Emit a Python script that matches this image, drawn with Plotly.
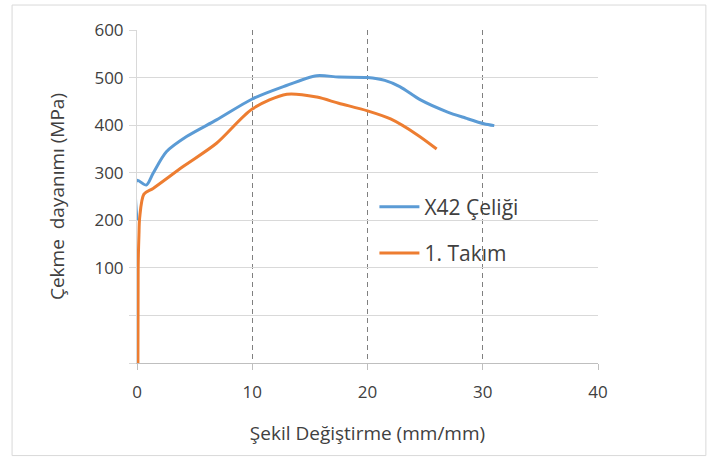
import plotly.graph_objects as go

# Data
x42_strain = [0.0, 0.0, 0.8, 1.4, 2.55, 4.3, 6.9, 10.0, 12.7, 15.6, 17.5, 20.0, 21.5, 22.8, 24.6, 26.9, 28.5, 30.1, 31.0]
x42_stress = [200, 284, 274, 299, 344, 376, 411, 455, 481, 504, 501, 500, 494, 481, 453, 428, 415, 403, 399]

takim_strain = [0.08, 0.1, 0.17, 0.23, 0.6, 1.4, 4.0, 6.9, 10.0, 13.0, 15.6, 17.5, 20.0, 22.0, 24.3, 26.0]
takim_stress = [-100, 100, 170, 205, 255, 267, 313, 362, 434, 465, 459, 446, 430, 413, 380, 350]

series_names = ["X42 Çeliği", "1. Takım"]
y_tickvals = [-100, 0, 100, 200, 300, 400, 500, 600]
y_ticktext = ["", "", "100", "200", "300", "400", "500", "600"]
x_tickvals = [0, 10, 20, 30, 40]

FONT = "Open Sans, Lato, sans-serif"
TXT = "#404040"

fig = go.Figure()
fig.add_trace(go.Scatter(x=x42_strain, y=x42_stress, mode="lines", name=series_names[0],
                         line=dict(color="#5B9BD5", width=3, shape="spline", smoothing=0.8),
                         legendgroup="a"))
fig.add_trace(go.Scatter(x=takim_strain, y=takim_stress, mode="lines", name=series_names[1],
                         line=dict(color="#ED7D31", width=3, shape="spline", smoothing=0.8),
                         legendgroup="b"))

fig.update_layout(
    width=712, height=458,
    margin=dict(l=137, r=114, t=30, b=95),
    paper_bgcolor="white", plot_bgcolor="white",
    font=dict(family=FONT, size=17, color=TXT),
    showlegend=True,
    legend=dict(x=0.515, y=0.53, xanchor="left", yanchor="top",
                bgcolor="rgba(0,0,0,0)", font=dict(size=21, color=TXT),
                tracegroupgap=16, traceorder="grouped", itemwidth=40),
    xaxis=dict(range=[0, 40], tickvals=x_tickvals, showgrid=True,
               gridcolor="#808080", griddash="5px,4px", gridwidth=1,
               showline=True, linecolor="#bfbfbf", linewidth=1,
               ticks="outside", ticklen=6, tickcolor="#bfbfbf",
               ticklabelstandoff=8,
               zeroline=False, tickfont=dict(size=17, color=TXT),
               title=dict(text="Şekil Değiştirme (mm/mm)", font=dict(size=19, color=TXT), standoff=24)),
    yaxis=dict(range=[-100, 600], tickvals=y_tickvals, ticktext=y_ticktext,
               showgrid=True, gridcolor="#d9d9d9", gridwidth=1,
               showline=True, linecolor="#d9d9d9", linewidth=1,
               ticks="outside", ticklen=7, tickcolor="#d9d9d9",
               ticklabelstandoff=2,
               zeroline=False, tickfont=dict(size=17, color=TXT),
               title=dict(text="Çekme  dayanımı (MPa)", font=dict(size=19, color=TXT), standoff=24)),
)

fig.add_shape(type="rect", xref="paper", yref="paper",
              x0=-0.271, x1=1.234, y0=-0.278, y1=1.075,
              line=dict(color="#d9d9d9", width=1), layer="below")

fig.write_html("out.html", config={"displayModeBar": False},
               post_script="document.body.style.margin='0';")
